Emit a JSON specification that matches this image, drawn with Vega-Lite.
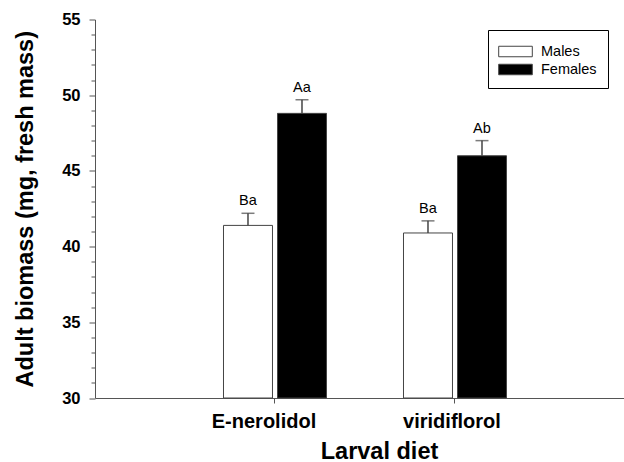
{
  "$schema": "https://vega.github.io/schema/vega-lite/v6.json",
  "width": 529,
  "height": 378.5,
  "autosize": "none",
  "padding": {"left": 95, "top": 19.5, "right": 0, "bottom": 64},
  "background": "white",
  "config": {"view": {"stroke": null}, "font": "Liberation Sans", "axis": {"labelOverlap": false}},
  "data": {"values": [
    {"diet": "E-nerolidol", "sex": "Males", "mass": 41.4, "upper": 42.2, "label": "Ba"},
    {"diet": "E-nerolidol", "sex": "Females", "mass": 48.8, "upper": 49.7, "label": "Aa"},
    {"diet": "viridiflorol", "sex": "Males", "mass": 40.9, "upper": 41.7, "label": "Ba"},
    {"diet": "viridiflorol", "sex": "Females", "mass": 46.0, "upper": 47.0, "label": "Ab"}
  ]},
  "resolve": {"axis": {"y": "independent"}},
  "encoding": {
    "x": {
      "field": "diet", "type": "nominal", "sort": ["E-nerolidol", "viridiflorol"],
      "scale": {"paddingInner": 0, "paddingOuter": 0.4694, "align": 0.5325},
      "axis": {
        "title": "Larval diet", "titleFontSize": 23.5, "titleFontWeight": "bold", "titleColor": "black",
        "titleX": 284, "titleY": 60, "titleBaseline": "alphabetic", "titleAlign": "center", "titleAnchor": null,
        "labelFontSize": 20, "labelFontWeight": "bold", "labelColor": "black", "labelAngle": 0,
        "labelPadding": 8, "tickSize": 5, "tickColor": "#555", "domainColor": "#555", "grid": false,
        "labelOffset": {"condition": {"test": "datum.value === 'E-nerolidol'", "value": -11}, "value": -3}
      }
    },
    "xOffset": {
      "field": "sex", "type": "nominal", "sort": ["Males", "Females"],
      "scale": {"paddingInner": 0.093, "paddingOuter": 0.713}
    }
  },
  "layer": [
    {
      "mark": {"type": "bar", "stroke": "#444", "strokeWidth": 1},
      "encoding": {
        "y": {
          "field": "mass", "type": "quantitative",
          "scale": {"domain": [30, 55], "nice": false, "zero": false},
          "axis": {
            "title": "Adult biomass (mg, fresh mass)", "titleFontSize": 23.5, "titleFontWeight": "bold", "titleColor": "black",
            "titleX": -63, "titleY": 189.25, "titleAngle": -90, "titleBaseline": "alphabetic", "titleAlign": "center",
            "values": [30,31,32,33,34,35,36,37,38,39,40,41,42,43,44,45,46,47,48,49,50,51,52,53,54,55],
            "labelExpr": "datum.value % 5 === 0 ? datum.label : ''",
            "labelOverlap": false,
            "tickSize": {"condition": {"test": "datum.value % 5 === 0", "value": 6}, "value": 4},
            "labelFontSize": 16.5, "labelFontWeight": "bold", "labelColor": "black", "labelPadding": 9,
            "tickColor": "#555", "domainColor": "#555", "grid": false
          }
        },
        "y2": {"datum": 30},
        "color": {
          "field": "sex", "type": "nominal",
          "scale": {"domain": ["Males", "Females"], "range": ["white", "black"]},
          "legend": {
            "title": null, "orient": "none", "legendX": 393, "legendY": 10.5,
            "strokeColor": "black", "padding": 11,
            "symbolType": "M-1.68,-0.525H1.68V0.525H-1.68Z", "symbolSize": 400,
            "symbolStrokeColor": "#444", "symbolStrokeWidth": 1, "symbolOffset": 6,
            "labelFontSize": 14.5, "labelFont": "Liberation Sans", "labelColor": "black",
            "rowPadding": -1, "labelOffset": 15
          }
        }
      }
    },
    {
      "mark": {"type": "rule", "color": "#444", "strokeWidth": 1.5},
      "encoding": {
        "y": {"field": "mass", "type": "quantitative", "axis": null},
        "y2": {"field": "upper"}
      }
    },
    {
      "mark": {"type": "tick", "color": "#444", "thickness": 1.5},
      "encoding": {
        "y": {"field": "upper", "type": "quantitative", "axis": null},
        "size": {"value": 13}
      }
    },
    {
      "mark": {"type": "text", "baseline": "bottom", "dy": -5, "fontSize": 14.5, "font": "Liberation Sans", "color": "black"},
      "encoding": {
        "y": {"field": "upper", "type": "quantitative", "axis": null},
        "text": {"field": "label"}
      }
    }
  ]
}
